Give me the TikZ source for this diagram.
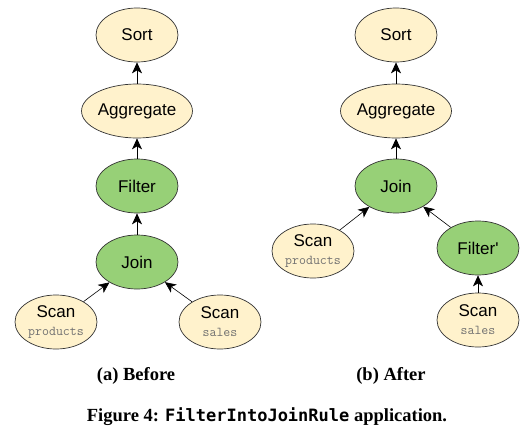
\documentclass[tikz,border=0pt]{standalone}
\usepackage{fontspec}
\setmainfont{Liberation Serif}
\newfontfamily\nodefont{Liberation Sans}
\newfontfamily\codefont{Latin Modern Mono}
\newfontfamily\capmono{DejaVu Sans Mono}
\usetikzlibrary{shapes.geometric,arrows.meta}
\definecolor{cream}{HTML}{FFF2CC}
\definecolor{leaf}{HTML}{97D077}
\definecolor{edgegray}{HTML}{333333}
\definecolor{codegray}{HTML}{707070}
\tikzset{
  op/.style={ellipse, draw=edgegray, line width=0.7pt, minimum width=82pt, minimum height=54pt,
    inner sep=0pt, font=\nodefont\fontsize{17}{20}\selectfont, align=center},
  light/.style={op, fill=cream},
  dark/.style={op, fill=leaf},
  flow/.style={-{Stealth[length=11pt,width=10pt,inset=3pt]}, line width=1pt, black},
  thinflow/.style={-{Stealth[length=11pt,width=10pt,inset=3pt]}, line width=0.6pt, black},
  captext/.style={font=\bfseries\fontsize{18.5}{22}\selectfont}
}
\newcommand{\code}[1]{{\codefont\fontsize{13.5}{15}\selectfont\color{codegray}#1}}
\begin{document}
\begin{tikzpicture}[x=1pt,y=-1pt]
\useasboundingbox (0,0) rectangle (528,431);
% Before
\node[light] (sa) at (137,35) {Sort};
\node[light] (aa) at (137,111) {Aggregate};
\node[dark] (fa) at (137,186) {Filter};
\node[dark] (ja) at (137,262) {Join};
\node[light] (pa) at (56,322) {Scan\\[-2pt]\code{products}};
\node[light] (ssa) at (220,322) {Scan\\[-2pt]\code{sales}};
\draw[flow] (aa) -- (sa);
\draw[flow] (fa) -- (aa);
\draw[flow] (ja) -- (fa);
\draw[thinflow] (pa) -- (ja);
\draw[thinflow] (ssa) -- (ja);
% After
\node[light] (sb) at (396,35) {Sort};
\node[light] (ab) at (396,111) {Aggregate};
\node[dark] (jb) at (396,186) {Join};
\node[light] (pb) at (313,251) {Scan\\[-2pt]\code{products}};
\node[dark] (fb) at (478,248) {Filter'};
\node[light] (ssb) at (478,320) {Scan\\[-2pt]\code{sales}};
\draw[flow] (ab) -- (sb);
\draw[flow] (jb) -- (ab);
\draw[thinflow] (pb) -- (jb);
\draw[thinflow] (fb) -- (jb);
\draw[thinflow] (ssb) -- (fb);
% captions
\node[captext] (ca) at (136,376) {(a) Before};
\node[captext] (cb) at (391,376) {(b) After};
\node[captext] (fig) at (267,417) {Figure 4: {\capmono\bfseries\fontsize{17}{20}\selectfont FilterIntoJoinRule} application.};
\end{tikzpicture}
\end{document}
